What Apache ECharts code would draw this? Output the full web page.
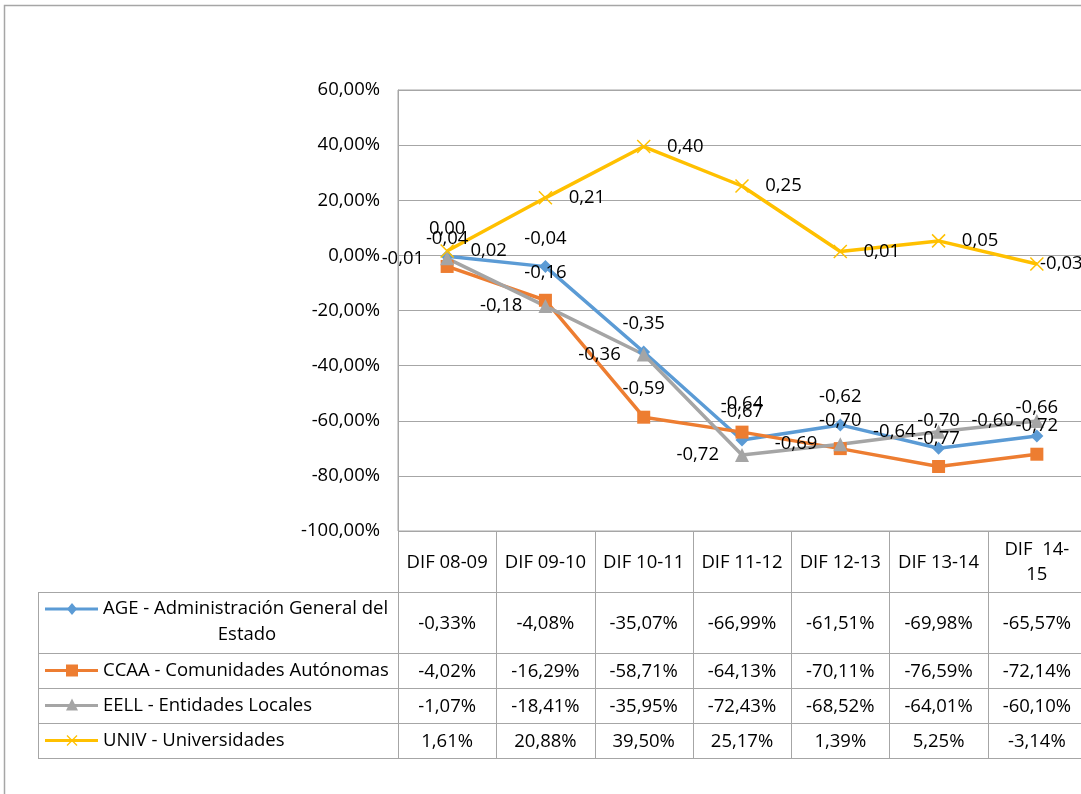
<!DOCTYPE html>
<html lang="es">
  <head>
    <meta charset="UTF-8" />
    <title>DIF</title>
    <style>
      html, body { margin: 0; padding: 0; overflow: hidden; background: #fff; }
      #main { width: 1090px; height: 794px; }
    </style>
  </head>
  <body>
    <script src="https://cdn.jsdelivr.net/npm/echarts@6/dist/echarts.min.js"></script>
    <div id="main"></div>
    <script>
      const categories = ['DIF 08-09', 'DIF 09-10', 'DIF 10-11', 'DIF 11-12', 'DIF 12-13', 'DIF 13-14', 'DIF  14-\n15']
      const age = [-0.0033, -0.0408, -0.3507, -0.6699, -0.6151, -0.6998, -0.6557]
      const ccaa = [-0.0402, -0.1629, -0.5871, -0.6413, -0.7011, -0.7659, -0.7214]
      const eell = [-0.0107, -0.1841, -0.3595, -0.7243, -0.6852, -0.6401, -0.6010]
      const univ = [0.0161, 0.2088, 0.3950, 0.2517, 0.0139, 0.0525, -0.0314]
      const names = [
        'AGE - Administración General del\nEstado',
        'CCAA - Comunidades Autónomas',
        'EELL - Entidades Locales',
        'UNIV - Universidades'
      ]
      const colors = ['#5B9BD5', '#ED7D31', '#A5A5A5', '#FFC000']

      const FONT = 'Open Sans'
      const pct = v => (v * 100).toFixed(2).replace('.', ',') + '%'
      const lbl = p => {
        let s = p.value.toFixed(2)
        if (s === '-0.00') s = '0.00'
        return s.replace('.', ',')
      }
      const crossPath = 'path://M0,0L10,10M0,10L10,0'

      const chart = echarts.init(document.getElementById('main'))

      const labelBase = { show: true, formatter: lbl, color: '#000', fontFamily: FONT, fontSize: 18.5 }

      // last yellow label sits tight against its marker, like Excel keeps it inside the chart
      const univData = univ.map((v, i) => i === univ.length - 1 ? { value: v, label: { distance: -4 } } : v)

      chart.setOption({
        animation: false,
        grid: { left: 398, right: 4, top: 90, bottom: 263, show: true, borderColor: '#a6a6a6', borderWidth: 1 },
        xAxis: {
          type: 'category',
          data: categories,
          axisLabel: { show: false },
          axisTick: { show: false },
          axisLine: { lineStyle: { color: '#a6a6a6' } }
        },
        yAxis: {
          type: 'value',
          min: -1,
          max: 0.6,
          interval: 0.2,
          axisLine: { show: true, lineStyle: { color: '#a6a6a6' } },
          axisTick: { show: false },
          splitLine: { lineStyle: { color: '#a6a6a6' } },
          axisLabel: { formatter: pct, color: '#000', fontFamily: FONT, fontSize: 18.5, margin: 18 }
        },
        series: [
          {
            name: names[0], type: 'line', data: age, symbol: 'diamond', symbolSize: 13,
            lineStyle: { color: colors[0], width: 3.5 }, itemStyle: { color: colors[0] },
            label: Object.assign({}, labelBase, { position: 'top', distance: 12 })
          },
          {
            name: names[1], type: 'line', data: ccaa, symbol: 'rect', symbolSize: 13,
            lineStyle: { color: colors[1], width: 3.5 }, itemStyle: { color: colors[1] },
            label: Object.assign({}, labelBase, { position: 'top', distance: 12 })
          },
          {
            name: names[2], type: 'line', data: eell, symbol: 'triangle', symbolSize: 14,
            lineStyle: { color: colors[2], width: 3.5 }, itemStyle: { color: colors[2] },
            label: Object.assign({}, labelBase, { position: 'left', distance: 16 })
          },
          {
            name: names[3], type: 'line', data: univData, symbol: crossPath, symbolSize: 13,
            lineStyle: { color: colors[3], width: 3.5 },
            itemStyle: { color: colors[3], borderColor: colors[3], borderWidth: 1.5 },
            label: Object.assign({}, labelBase, { position: 'right', distance: 16 })
          }
        ]
      })

      // data table under the plot
      const seriesData = [age, ccaa, eell, univ]
      const symbols = ['diamond', 'rect', 'triangle', 'cross']
      const gridLeft = 398
      const gridRight = 1086
      const colW = (gridRight - gridLeft) / categories.length
      const tableLeft = 38
      const rowEdges = [531, 592, 653, 688, 723, 758]
      const lineColor = '#a6a6a6'
      const els = []

      // outer chart border
      els.push({ type: 'rect', shape: { x: 4.5, y: 5.5, width: 1200, height: 1000 }, style: { fill: 'none', stroke: lineColor, lineWidth: 1.5 }, silent: true })

      // horizontal lines
      rowEdges.forEach((y, i) => {
        const x1 = i === 0 ? gridLeft : tableLeft
        els.push({ type: 'line', shape: { x1, y1: y + 0.5, x2: gridRight, y2: y + 0.5 }, style: { stroke: lineColor, lineWidth: 1 } })
      })
      // vertical lines
      for (let i = 0; i <= categories.length; i++) {
        const x = Math.round(gridLeft + i * colW) + 0.5
        els.push({ type: 'line', shape: { x1: x, y1: rowEdges[0], x2: x, y2: rowEdges[5] }, style: { stroke: lineColor, lineWidth: 1 } })
      }
      els.push({ type: 'line', shape: { x1: tableLeft + 0.5, y1: rowEdges[1], x2: tableLeft + 0.5, y2: rowEdges[5] }, style: { stroke: lineColor, lineWidth: 1 } })

      const textStyle = (text, x, y, align) => ({
        type: 'text', x, y,
        style: { text, fill: '#000', font: '18.5px "' + FONT + '"', align: align || 'center', verticalAlign: 'middle', lineHeight: 25 }
      })

      // header row
      categories.forEach((c, i) => {
        const cx = chart.convertToPixel({ xAxisIndex: 0 }, i)
        els.push(textStyle(c, cx, (rowEdges[0] + rowEdges[1]) / 2 + 1))
      })

      // series rows
      seriesData.forEach((arr, r) => {
        const yMid = (rowEdges[r + 1] + rowEdges[r + 2]) / 2
        const firstLineY = r === 0 ? rowEdges[1] + 17 : yMid
        // legend key
        const ky = firstLineY
        els.push({ type: 'line', shape: { x1: 45, y1: ky, x2: 98, y2: ky }, style: { stroke: colors[r], lineWidth: 3 } })
        const sym = symbols[r]
        if (sym === 'diamond') {
          els.push({ type: 'polygon', shape: { points: [[72, ky - 6], [77, ky], [72, ky + 6], [67, ky]] }, style: { fill: colors[r] } })
        } else if (sym === 'rect') {
          els.push({ type: 'rect', shape: { x: 66, y: ky - 6, width: 12, height: 12 }, style: { fill: colors[r] } })
        } else if (sym === 'triangle') {
          els.push({ type: 'polygon', shape: { points: [[72, ky - 7], [78, ky + 5], [66, ky + 5]] }, style: { fill: colors[r] } })
        } else {
          els.push({ type: 'polyline', shape: { points: [[67, ky - 5], [77, ky + 5]] }, style: { stroke: colors[r], lineWidth: 1.2 } })
          els.push({ type: 'polyline', shape: { points: [[67, ky + 5], [77, ky - 5]] }, style: { stroke: colors[r], lineWidth: 1.2 } })
        }
        // legend text
        if (r === 0) {
          const parts = names[0].split('\n')
          els.push(textStyle(parts[0], 103, firstLineY, 'left'))
          els.push(textStyle(parts[1], 247, firstLineY + 26, 'center'))
        } else {
          els.push(textStyle(names[r], 103, yMid, 'left'))
        }
        // values
        arr.forEach((v, i) => {
          const cx = chart.convertToPixel({ xAxisIndex: 0 }, i)
          els.push(textStyle(pct(v), cx, yMid + 1))
        })
      })

      chart.setOption({ graphic: { elements: els } })
    </script>
  </body>
</html>
